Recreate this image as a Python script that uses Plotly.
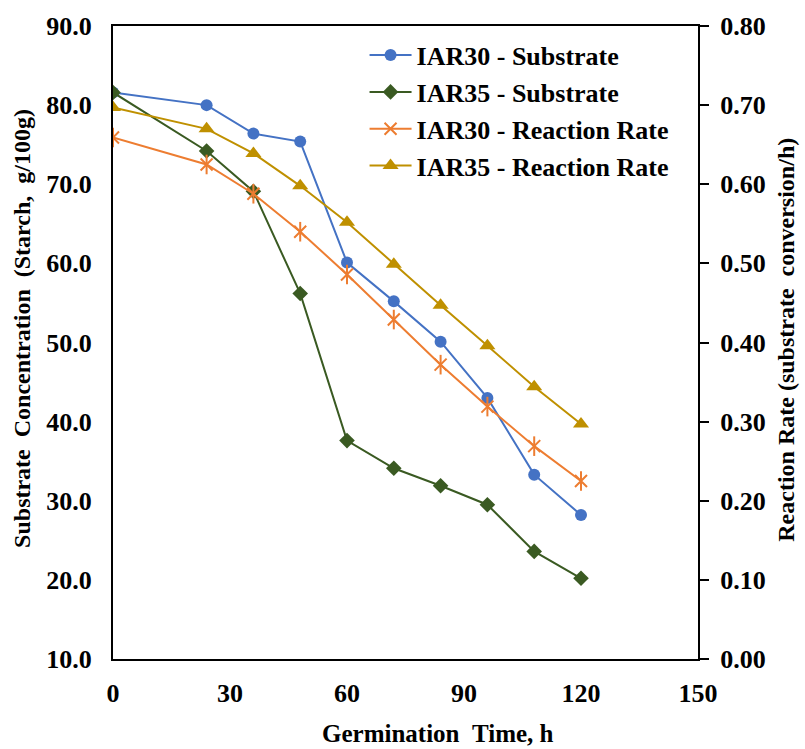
import plotly.graph_objects as go

# Germination time (h)
hours = [0, 24, 36, 48, 60, 72, 84, 96, 108, 120]

# Starch substrate concentration (g/100g)
iar30_substrate = [81.6, 80.0, 76.4, 75.4, 60.1, 55.2, 50.1, 43.0, 33.3, 28.2]
iar35_substrate = [81.6, 74.2, 69.1, 56.2, 37.6, 34.1, 31.9, 29.5, 23.6, 20.2]

# Reaction rate (substrate conversion/h)
iar30_rate = [0.659, 0.625, 0.588, 0.540, 0.486, 0.429, 0.372, 0.319, 0.269, 0.225]
iar35_rate = [0.697, 0.670, 0.639, 0.598, 0.552, 0.499, 0.447, 0.396, 0.344, 0.297]

x_ticks = [0, 30, 60, 90, 120, 150]
left_ticks = [10, 20, 30, 40, 50, 60, 70, 80, 90]
right_ticks = [0.0, 0.1, 0.2, 0.3, 0.4, 0.5, 0.6, 0.7, 0.8]

FONT = "Times New Roman, Liberation Serif, serif"
BLUE = "#4472C4"
GREEN = "#3A5A22"
ORANGE = "#ED7D31"
GOLD = "#BF9000"
NB = "\u00a0"

fig = go.Figure()

fig.add_trace(go.Scatter(
    x=hours, y=iar30_substrate, name="<b>IAR30 - Substrate</b>", mode="lines+markers",
    line=dict(color=BLUE, width=2), legendgroup="a",
    marker=dict(symbol="circle", size=12, color=BLUE),
))
fig.add_trace(go.Scatter(
    x=hours, y=iar35_substrate, name="<b>IAR35 - Substrate</b>", mode="lines+markers",
    line=dict(color=GREEN, width=2), legendgroup="b",
    marker=dict(symbol="diamond", size=12, color=GREEN),
))
fig.add_trace(go.Scatter(
    x=hours, y=iar30_rate, name="<b>IAR30 - Reaction Rate</b>", mode="lines+markers",
    yaxis="y2", line=dict(color=ORANGE, width=2), legendgroup="c",
    marker=dict(symbol="x-thin-open", size=12, color=ORANGE,
                line=dict(color=ORANGE, width=2)),
))
# vertical stroke completing the six-armed star marker
fig.add_trace(go.Scatter(
    x=hours, y=iar30_rate, mode="markers", yaxis="y2", showlegend=False,
    hoverinfo="skip", legendgroup="c",
    marker=dict(symbol="line-ns-open", size=14, color=ORANGE,
                line=dict(color=ORANGE, width=2)),
))
fig.add_trace(go.Scatter(
    x=hours, y=iar35_rate, name="<b>IAR35 - Reaction Rate</b>", mode="lines+markers",
    yaxis="y2", line=dict(color=GOLD, width=2), legendgroup="d",
    marker=dict(symbol="triangle-up", size=14, color=GOLD),
))

tick_font = dict(family=FONT, size=26, color="black")
xtitle_font = dict(family=FONT, size=25, color="black")
ytitle_font = dict(family=FONT, size=24, color="black")


def bold(s):
    return f"<b>{s}</b>"


fig.update_layout(
    width=805, height=749,
    margin=dict(l=113, r=107, t=21, b=90),
    paper_bgcolor="white", plot_bgcolor="white",
    showlegend=True,
    legend=dict(
        x=0.43, y=0.991, xanchor="left", yanchor="top",
        font=dict(family=FONT, size=26, color="black"),
        bgcolor="rgba(0,0,0,0)", tracegroupgap=0, itemwidth=42,
    ),
    xaxis=dict(
        range=[0, 150], tickvals=x_ticks, ticktext=[bold(v) for v in x_ticks],
        showgrid=False, zeroline=False, showline=True, linecolor="black",
        linewidth=2, mirror=True, ticks="", tickfont=tick_font,
        ticklabelstandoff=10,
    ),
    yaxis=dict(
        range=[10, 90], tickvals=left_ticks,
        ticktext=[bold(f"{v:.1f}") for v in left_ticks],
        showgrid=False, zeroline=False, showline=True, linecolor="black",
        linewidth=2, ticks="", tickfont=tick_font, ticklabelstandoff=14,
    ),
    yaxis2=dict(
        range=[0, 0.8], tickvals=right_ticks,
        ticktext=[bold(f"{v:.2f}") for v in right_ticks],
        overlaying="y", side="right",
        showgrid=False, zeroline=False, showline=True, linecolor="black",
        linewidth=2, ticks="outside", ticklen=9, tickwidth=2, tickcolor="black",
        tickfont=tick_font, ticklabelstandoff=6,
    ),
    annotations=[
        dict(text=bold(f"Germination{NB}{NB}Time,{NB}h"), xref="paper", yref="paper",
             x=0.556, y=-0.117, xanchor="center", yanchor="middle",
             showarrow=False, font=xtitle_font),
        dict(text=bold(f"Substrate{NB}{NB}Concentration{NB}{NB}(Starch,{NB}{NB}g/100g)"),
             xref="paper", yref="paper", x=-0.1556, y=0.523,
             xanchor="center", yanchor="middle", textangle=-90,
             showarrow=False, font=ytitle_font),
        dict(text=bold(f"Reaction{NB}Rate{NB}(substrate{NB}{NB}conversion/h)"),
             xref="paper", yref="paper", x=1.150, y=0.504,
             xanchor="center", yanchor="middle", textangle=-90,
             showarrow=False, font=ytitle_font),
    ],
)

fig.write_html("out.html")
